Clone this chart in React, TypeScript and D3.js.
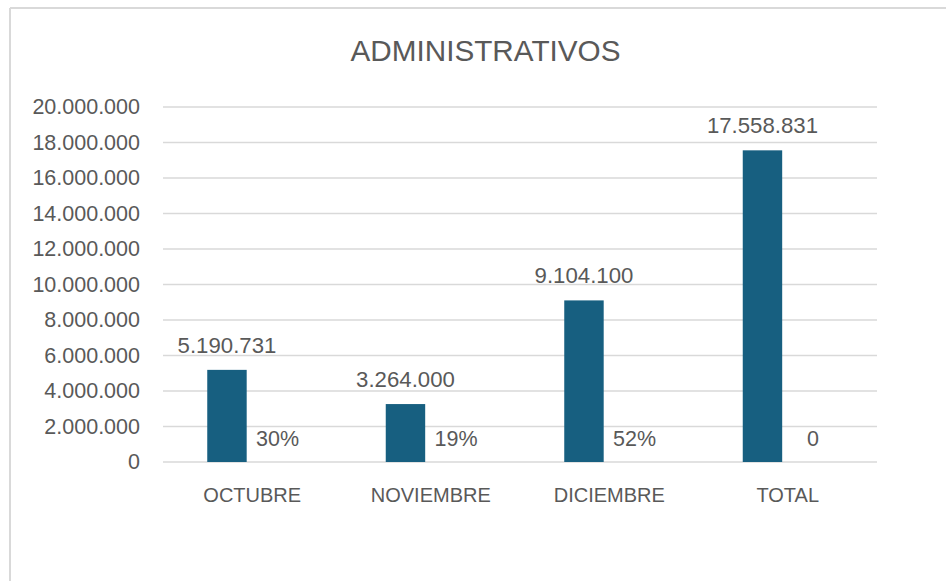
import React from "react";
import * as d3 from "d3";

const categories = ["OCTUBRE", "NOVIEMBRE", "DICIEMBRE", "TOTAL"];
const amounts = [5190731, 3264000, 9104100, 17558831];
const shares = [0.30, 0.19, 0.52, 0];
const shareLabels = ["30%", "19%", "52%", "0"];
const yTicks = [0, 2000000, 4000000, 6000000, 8000000, 10000000, 12000000, 14000000, 16000000, 18000000, 20000000];
const title = "ADMINISTRATIVOS";

const W = 946;
const H = 581;
const FONT = "'Liberation Sans', Arial, sans-serif";
const TEXT = "#595959";
const GRID = "#d9d9d9";
const BAR = "#175f80";

const locale = d3.formatLocale({ decimal: ",", thousands: ".", grouping: [3], currency: ["$", ""] });
const fmt = locale.format(",d");

export default function App() {
  const x = d3.scaleBand<string>().domain(categories).range([163, 877]).paddingInner(0).paddingOuter(0);
  const y = d3.scaleLinear().domain([0, 20000000]).range([462, 107]);
  const sub = d3.scaleBand<string>().domain(["amount", "share"]).range([-45, 45]).paddingInner(0.22);
  const bw = sub.bandwidth();
  const center = (c: string) => (x(c) as number) + x.bandwidth() / 2;

  return (
    <svg width={W} height={H} style={{ position: "absolute", left: 0, top: 0, background: "#fff" }} fontFamily={FONT}>
      <rect x={0} y={0} width={W} height={H} fill="#fff" />
      {/* chart border */}
      <line x1={10} y1={8} x2={W} y2={8} stroke={GRID} strokeWidth={2} />
      <line x1={10} y1={8} x2={10} y2={H} stroke={GRID} strokeWidth={2} />

      <text x={485.5} y={61} textAnchor="middle" fontSize={29.7} fill={TEXT}>{title}</text>

      {yTicks.map((t) => (
        <g key={t}>
          <line x1={163} x2={877} y1={y(t)} y2={y(t)} stroke={GRID} strokeWidth={1.5} />
          <text x={140} y={y(t) + 7} textAnchor="end" fontSize={21.5} fill={TEXT}>{fmt(t)}</text>
        </g>
      ))}

      {categories.map((c, i) => {
        const cx = center(c);
        const x1 = cx + (sub("amount") as number);
        const x2 = cx + (sub("share") as number);
        const yTop = y(amounts[i]);
        const yShare = y(shares[i]);
        return (
          <g key={c}>
            <rect x={x1} y={yTop} width={bw} height={y(0) - yTop} fill={BAR} />
            <rect x={x2} y={yShare} width={bw} height={Math.max(0, y(0) - yShare)} fill="#0f9ed5" />
            <text x={x1 + bw / 2} y={yTop - 17} textAnchor="middle" fontSize={22.2} fill={TEXT}>{fmt(amounts[i])}</text>
            <text x={x2 + bw / 2} y={yShare - 16} textAnchor="middle" fontSize={21.5} fill={TEXT}>{shareLabels[i]}</text>
            <text x={cx} y={502} textAnchor="middle" fontSize={20} fill={TEXT}>{c}</text>
          </g>
        );
      })}
    </svg>
  );
}
